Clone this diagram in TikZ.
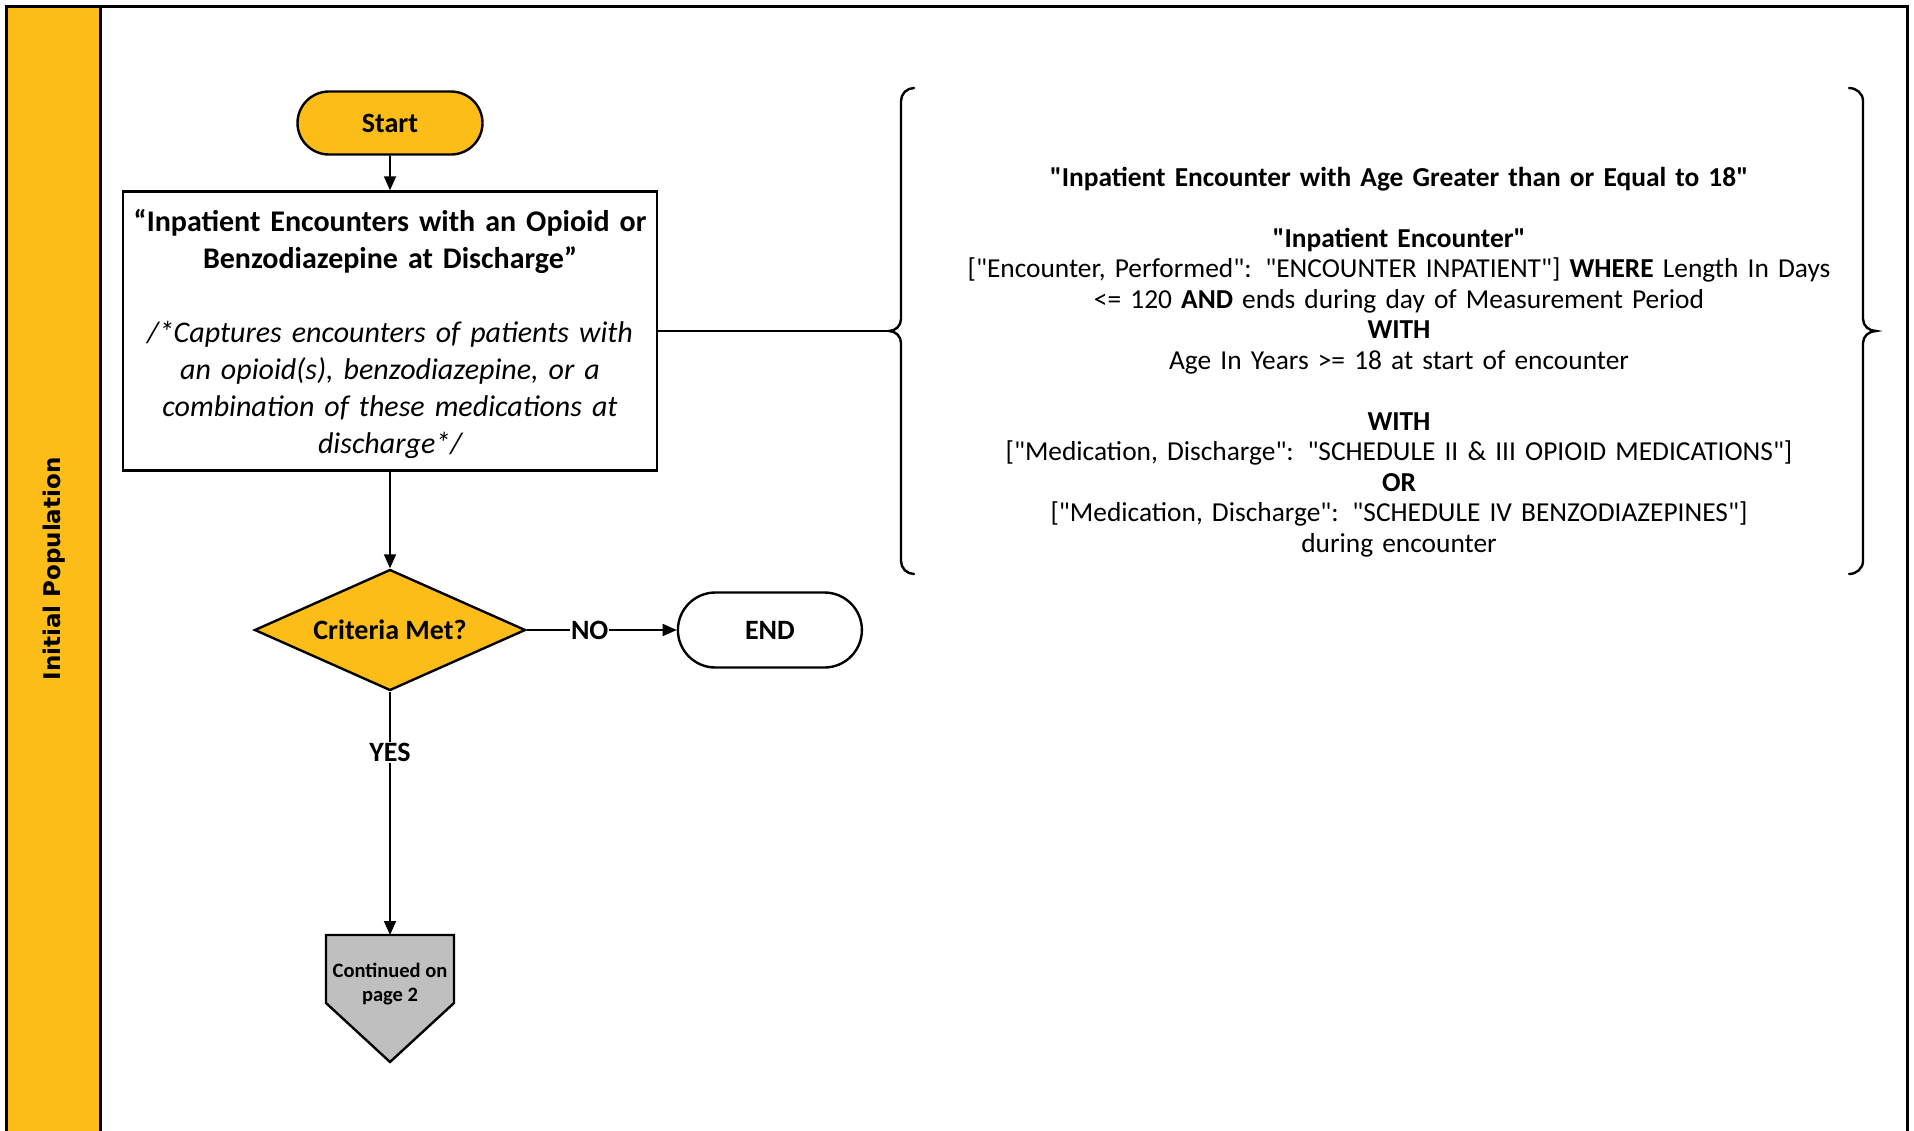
\documentclass[tikz,border=0pt]{standalone}
\usepackage{fontspec}
\setmainfont{Carlito}[Ligatures=TeXOff]
\newfontfamily\lanefont{DejaVu Sans}
\usetikzlibrary{shapes.geometric,shapes.misc,arrows.meta,positioning}
\definecolor{ipyellow}{RGB}{253,189,25}
\definecolor{ipgray}{RGB}{191,191,191}

\begin{document}
\begin{tikzpicture}
[
x=1pt, y=1pt,
every node/.style={inner sep=0pt},
shapeline/.style={draw=black, line width=2.4pt},
terminal/.style={shapeline, rounded rectangle, minimum width=185pt, minimum height=63pt, font=\fontsize{28}{32}\selectfont\bfseries},
process/.style={shapeline, rectangle, fill=white, minimum width=534pt, minimum height=279pt, text width=528pt, align=center},
decision/.style={shapeline, diamond, fill=ipyellow, aspect=2.24, minimum width=271pt, minimum height=121pt, font=\fontsize{28}{32}\selectfont\bfseries},
flow/.style={line width=1.8pt, -{Triangle[length=14pt,width=12pt]}},
branch/.style={fill=white, inner sep=1pt, font=\fontsize{28}{32}\selectfont\bfseries}
]
\tikzset{brace/.style={line width=2.4pt, line cap=round}}
\useasboundingbox (0,0) rectangle (1914,-1130);
\draw[line width=3pt] (6,-6) rectangle (1907,-1140);
\draw[line width=3pt, fill=ipyellow] (6,-6) rectangle (100,-1140);
\node[rotate=90, font=\lanefont\fontsize{23}{28}\selectfont\bfseries] (lane) at (54,-569) {Initial Population};

\node[terminal, fill=ipyellow] (start) at (390,-123) {Start};
\node[process, font=\fontsize{30}{37}\selectfont] (encbox) at (390,-331)
  {\rule{0pt}{29pt}\bfseries “Inpatient Encounters with an Opioid or\\Benzodiazepine at Discharge”\\[37pt]
   \mdseries\itshape /*Captures encounters of patients with\\an opioid(s), benzodiazepine, or a\\combination of these medications at\\discharge*/};
\node[decision] (crit) at (390,-630) {Criteria Met?};
\node[terminal, fill=white, minimum width=184pt, minimum height=75pt, right=150pt of crit] (stop) {END};

\draw[line width=2.4pt, fill=ipgray] (326,-935) -- (454,-935) -- (454,-1003) -- (390,-1062) -- (326,-1003) -- cycle;
\coordinate (conttop) at (390,-935);
\node[font=\fontsize{20.5}{24.5}\selectfont\bfseries, align=center] (cont) at (390,-984) {Continued on\\page 2};

\coordinate (lbtip) at (889,-331);
\draw[brace] (914,-88) to[out=180,in=90] (901,-101) -- (901,-319) to[out=-90,in=0] (lbtip) to[out=0,in=90] (901,-343) -- (901,-561) to[out=-90,in=180] (914,-574);
\draw[brace] (1849,-88) to[out=0,in=90] (1863,-101) -- (1863,-319) to[out=-90,in=180] (1876,-331) to[out=180,in=90] (1863,-343) -- (1863,-561) to[out=-90,in=0] (1849,-574);

\node[text width=920pt, align=center, font=\fontsize{27.4}{30.5}\selectfont] (logic) at (1399,-362)
  {\textbf{"Inpatient Encounter with Age Greater than or Equal to 18"}\\[30.5pt]
   \textbf{"Inpatient Encounter"}\\
   {[}"Encounter, Performed": "ENCOUNTER INPATIENT"] \textbf{WHERE} Length In Days\\
   <= 120 \textbf{AND} ends during day of Measurement Period\\
   \textbf{WITH}\\
   Age In Years >= 18 at start of encounter\\[30.5pt]
   \textbf{WITH}\\
   {[}"Medication, Discharge": "SCHEDULE II \& III OPIOID MEDICATIONS"]\\
   \textbf{OR}\\
   {[}"Medication, Discharge": "SCHEDULE IV BENZODIAZEPINES"]\\
   during encounter};

\draw[flow] (start) -- (encbox);
\draw[flow] (encbox) -- (crit);
\draw[flow] (crit) -- node[branch, pos=0.42] {NO} (stop);
\draw[flow] (crit) -- node[branch, pos=0.25] {YES} (conttop);
\draw[line width=1.8pt] (encbox) -- (lbtip);
\end{tikzpicture}
\end{document}
